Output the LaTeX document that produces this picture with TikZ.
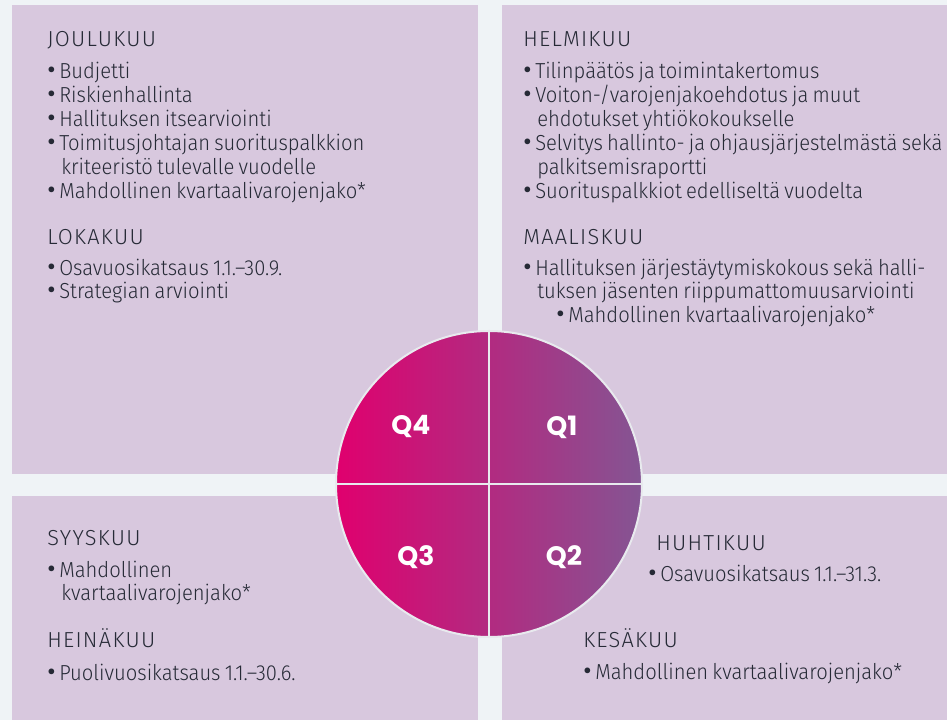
\documentclass[tikz,border=0pt]{standalone}
\usepackage{fontspec}
\setmainfont{Fira Sans}[UprightFont=* Light, BoldFont=* Medium, FakeStretch=0.93, WordSpace=0.75]
\newfontfamily\hdfont{Fira Sans}[UprightFont=* Light, LetterSpace=6]
\newfontfamily\bulfont{Fira Sans}
\newfontfamily\qfont{Poppins}
\definecolor{bg}{RGB}{239,243,246}
\definecolor{panel}{RGB}{216,200,222}
\definecolor{txt}{RGB}{38,42,54}
\definecolor{qleft}{RGB}{224,0,110}
\definecolor{qright}{RGB}{132,85,147}
\definecolor{rim}{RGB}{232,234,238}
\newcommand\bul{\makebox[9pt][l]{{\bulfont\fontsize{19}{19}\selectfont\textbullet}}}
\newcommand\ind{\hspace*{10.5pt}}
\tikzset{
  panelbox/.style={fill=panel},
  hd/.style={anchor=base west, inner sep=0pt, text=txt, text height=11pt, text depth=3pt, font=\hdfont\fontsize{16.3}{18}\selectfont},
  it/.style={anchor=base west, inner sep=0pt, text=txt, text height=11pt, text depth=3pt, font=\fontsize{16.3}{18}\selectfont},
  qlab/.style={text=white, font=\qfont\bfseries\fontsize{20}{21}\selectfont, inner sep=0pt},
  divider/.style={draw=rim, line width=1.5pt}
}
\begin{document}
\begin{tikzpicture}[x=0.75pt,y=-0.75pt]
\useasboundingbox (0,0) rectangle (947,720);
\clip (0,0) rectangle (947,720);
\fill[bg] (0,0) rectangle (947,720);
\fill[panelbox] (12,5) rectangle (478,474);
\fill[panelbox] (502,5) rectangle (947,474);
\fill[panelbox] (12,496) rectangle (478,720);
\fill[panelbox] (502,496) rectangle (947,720);

% top-left
\node[hd] (jou) at (47,47) {JOULUKUU};
\node[it] (j1) at (47,79) {\bul Budjetti};
\node[it] (j2) at (47,102.7) {\bul Riskienhallinta};
\node[it] (j3) at (47,127) {\bul Hallituksen itsearviointi};
\node[it] (j4) at (47,151) {\bul Toimitusjohtajan suorituspalkkion};
\node[it] (j5) at (47,175) {\ind kriteeristö tulevalle vuodelle};
\node[it] (j6) at (47,199) {\bul Mahdollinen kvartaalivarojenjako*};
\node[hd] (lok) at (47,245) {LOKAKUU};
\node[it] (l1) at (47,276) {\bul Osavuosikatsaus 1.1.–30.9.};
\node[it] (l2) at (47,299) {\bul Strategian arviointi};

% top-right
\node[hd] (hel) at (523,47) {HELMIKUU};
\node[it] (h1) at (523,79) {\bul Tilinpäätös ja toimintakertomus};
\node[it] (h2) at (523,102.7) {\bul Voiton-/varojenjakoehdotus ja muut};
\node[it] (h3) at (523,126.7) {\ind ehdotukset yhtiökokoukselle};
\node[it] (h4) at (523,150.7) {\bul Selvitys hallinto- ja ohjausjärjestelmästä sekä};
\node[it] (h5) at (523,175) {\ind palkitsemisraportti};
\node[it] (h6) at (523,199) {\bul Suorituspalkkiot edelliseltä vuodelta};
\node[hd] (maa) at (523,245) {MAALISKUU};
\node[it] (m1) at (523,276) {\bul Hallituksen järjestäytymiskokous sekä halli-};
\node[it] (m2) at (523,299) {\ind tuksen jäsenten riippumattomuusarviointi};
\node[it] (m3) at (556,323) {\bul Mahdollinen kvartaalivarojenjako*};

% bottom-left
\node[hd] (syy) at (47,546) {SYYSKUU};
\node[it] (s1) at (47,577) {\bul Mahdollinen};
\node[it] (s2) at (47,600.7) {\ind kvartaalivarojenjako*};
\node[hd] (hei) at (47,647) {HEINÄKUU};
\node[it] (e1) at (47,680) {\bul Puolivuosikatsaus 1.1.–30.6.};

% bottom-right
\node[hd] (huh) at (656,550) {HUHTIKUU};
\node[it] (u1) at (648,581) {\bul Osavuosikatsaus 1.1.–31.3.};
\node[hd] (kes) at (583,647) {KESÄKUU};
\node[it] (k1) at (583,679) {\bul Mahdollinen kvartaalivarojenjako*};

% circle
\node[circle, minimum size=229.5pt, inner sep=0pt, left color=qleft, right color=qright,
      draw=rim, line width=1.5pt] (c) at (489,484) {};
\draw[divider] (c.north) -- (c.south);
\draw[divider] (c.west) -- (c.east);
\node[qlab] (q4) at (411,427) {Q4};
\node[qlab] (q1) at (562,427) {Q1};
\node[qlab] (q3) at (416,557) {Q3};
\node[qlab] (q2) at (564,557) {Q2};
\end{tikzpicture}
\end{document}
